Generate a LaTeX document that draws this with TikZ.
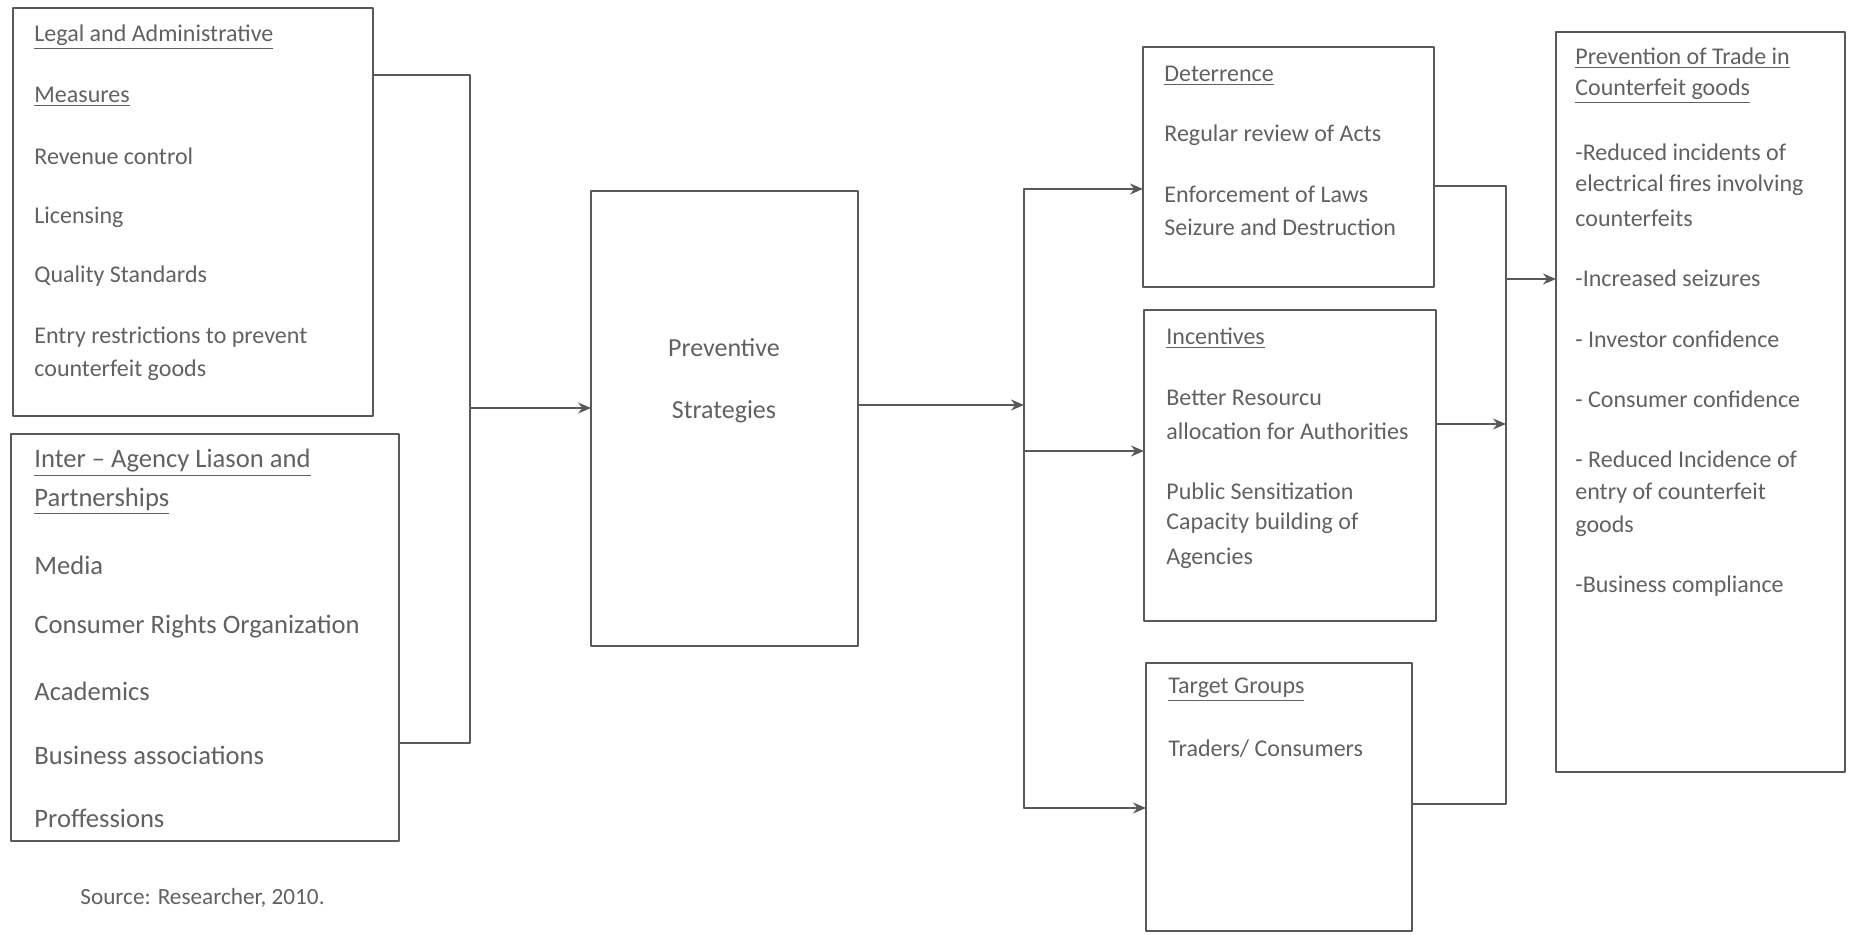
\documentclass[tikz,border=0pt]{standalone}
\usepackage{fontspec}
\setmainfont{Carlito}
\usetikzlibrary{arrows.meta}
\definecolor{linegray}{gray}{0.35}
\definecolor{txtgray}{gray}{0.38}
\tikzset{
  box/.style={draw=linegray,line width=0.8pt,inner sep=0pt,outer sep=0pt},
  lbl/.style={anchor=west,inner sep=0pt,text=txtgray,font=\fontsize{12}{14}\selectfont},
  lblbig/.style={lbl,font=\fontsize{13.3}{15}\selectfont},
  conn/.style={draw=linegray,line width=0.8pt},
}
\begin{document}
\begin{tikzpicture}[x=0.5pt,y=-0.5pt,line cap=round,line join=round,>={Stealth[length=6.5pt,width=5.5pt]}]
		\useasboundingbox (0,0) rectangle (1849,935);
		% boxes
		\node[box,minimum width=180pt,minimum height=204pt] (legal) at (193,212) {};
		\node[box,minimum width=194pt,minimum height=203.5pt] (agency) at (205,637.5) {};
		\node[box,minimum width=133.5pt,minimum height=227.5pt] (prev) at (724.5,418.5) {};
		\node[box,minimum width=145.5pt,minimum height=120pt] (deter) at (1288.5,167) {};
		\node[box,minimum width=146pt,minimum height=155.5pt] (incent) at (1290,465.5) {};
		\node[box,minimum width=133pt,minimum height=134pt] (target) at (1279,797) {};
		\node[box,minimum width=144.5pt,minimum height=370pt] (result) at (1700.5,402) {};
		% texts
		\foreach \t/\y [count=\i] in {\underline{Legal and Administrative}/37,\underline{Measures}/97,Revenue control/156,Licensing/217,Quality Standards/276,Entry restrictions to prevent/337,counterfeit goods/370}
			\node[lbl] (legal\i) at (34,\y) {\t};
		\foreach \t/\y [count=\i] in {\underline{Inter -- Agency Liason and}/463,\underline{Partnerships}/501,Media/565,Consumer Rights Organization/627,Academics/691,Business associations/755,Proffessions/818}
			\node[lblbig] (agency\i) at (34,\y) {\t};
		\node[lbl,anchor=center,font=\fontsize{13}{15}\selectfont] (prev1) at (724,348) {Preventive};
		\node[lbl,anchor=center,font=\fontsize{13}{15}\selectfont] (prev2) at (724,412) {Strategies};
		\foreach \t/\y [count=\i] in {\underline{Deterrence}/76,Regular review of Acts/135,Enforcement of Laws/194,Seizure and Destruction/227}
			\node[lbl] (deter\i) at (1164,\y) {\t};
		\foreach \t/\y [count=\i] in {\underline{Incentives}/338,Better Resourcu/398,allocation for Authorities/431,Public Sensitization/491,Capacity building of/523,Agencies/558}
			\node[lbl] (incent\i) at (1166,\y) {\t};
		\node[lbl] (target1) at (1168,690) {\underline{Target Groups}};
		\node[lbl] (target2) at (1168,749) {Traders/ Consumers};
		\foreach \t/\y [count=\i] in {\underline{Prevention of Trade in}/58,\underline{Counterfeit goods}/91,-Reduced incidents of/152,electrical fires involving/185,counterfeits/218,-Increased seizures/278,- Investor confidence/339,- Consumer confidence/399,- Reduced Incidence of/459,entry of counterfeit/493,goods/526,-Business compliance/586}
			\node[lbl] (result\i) at (1575,\y) {\t};
		\node[lbl,font=\fontsize{11.6}{14}\selectfont] (source) at (80,898) {Source: Researcher, 2010.};
		% connectors
		\coordinate (j1) at (470,75);
		\coordinate (j2) at (470,408);
		\coordinate (j3) at (470,743);
		\draw[conn] (j1 -| legal.east) -- (j1) -- (j3) -- (j3 -| agency.east);
		\draw[conn,->] (j2) -- (j2 -| prev.west);
		\coordinate (s0) at (1024,405);
		\coordinate (s1) at (1024,189);
		\coordinate (s2) at (1024,451);
		\coordinate (s3) at (1024,808);
		\draw[conn,->] (s0 -| prev.east) -- (s0);
		\draw[conn] (s1) -- (s3);
		\draw[conn,->] (s1) -- (s1 -| deter.west);
		\draw[conn,->] (s2) -- (s2 -| incent.west);
		\draw[conn,->] (s3) -- (s3 -| target.west);
		\coordinate (m1) at (1506,186);
		\coordinate (m2) at (1506,424);
		\coordinate (m0) at (1506,279);
		\coordinate (m3) at (1506,804);
		\draw[conn] (m1 -| deter.east) -- (m1) -- (m3) -- (m3 -| target.east);
		\draw[conn,->] (m2 -| incent.east) -- (m2);
		\draw[conn,->] (m0) -- (m0 -| result.west);
	\end{tikzpicture}
\end{document}
